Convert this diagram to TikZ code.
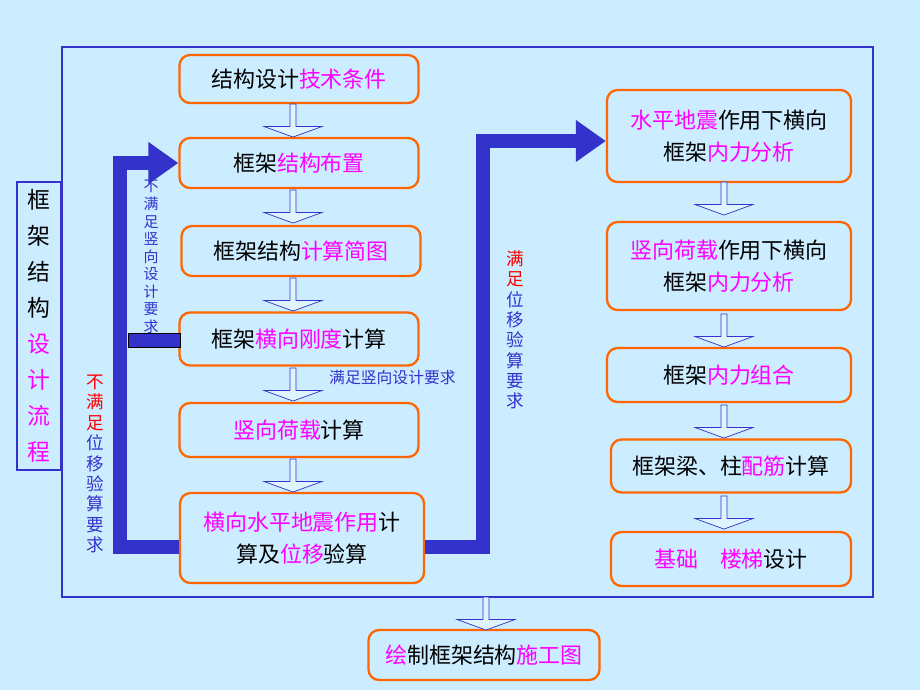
\documentclass[tikz,border=0pt]{standalone}
\usepackage{fontspec}
\setmainfont{Noto Sans CJK SC}[BoldFont={Noto Sans CJK SC Bold}]
\usetikzlibrary{arrows.meta,positioning,shapes.arrows}
\definecolor{bg_blue}{RGB}{204,236,255}
\definecolor{frame_blue}{RGB}{51,51,204}
\definecolor{box_orange}{RGB}{255,102,0}
\definecolor{mag}{RGB}{255,0,255}
\newcommand{\hl}[1]{\textcolor{mag}{#1}}
\begin{document}
\begin{tikzpicture}[x=0.02cm,y=-0.02cm,
      stepbox/.style={
         draw=box_orange,
         line width=1.3pt,
         rounded corners=6pt,
         minimum height=#1*0.02cm,
         inner sep=2pt,
         align=center,
         font=\fontsize{12.5}{18}\selectfont},
      stepbox/.default=50,
      hollow/.style={
         single arrow,
         shape border rotate=270,
         draw=frame_blue,
         fill=bg_blue!60!white,
         minimum width=1.15cm,
         minimum height=0.66cm,
         single arrow head extend=0.06cm,
         single arrow tip angle=140,
         inner sep=0pt},
      vtext/.style={
         align=center,
         text=frame_blue,
         font=\fontsize{8.5}{10}\selectfont},
      thickarrow/.style={
         draw=frame_blue,
         line width=0.28cm,
         -{Triangle[length=0.6cm,width=0.8cm]}},
      ]
      \fill[bg_blue] (0,0) rectangle (920,690);
      \useasboundingbox (0,0) rectangle (920,690);
      % outer frame
      \draw[frame_blue,line width=1.5pt] (62,47) rectangle (873,597);
      \node[draw=frame_blue,line width=1.5pt,fill=bg_blue,minimum width=44*0.02cm,
         minimum height=288*0.02cm,align=center,inner sep=0pt,
         font=\fontsize{13}{20.5}\selectfont] (title) at (39,326)
         {框\\架\\结\\构\\\hl{设}\\\hl{计}\\\hl{流}\\\hl{程}};
      % left column
      \node[stepbox=48,minimum width=239*0.02cm] (b1) at (299,79) {结构设计\hl{技术条件}};
      \node[stepbox,minimum width=239*0.02cm] (b2) at (299,163) {框架\hl{结构布置}};
      \node[stepbox,minimum width=239*0.02cm] (b3) at (301,251) {框架结构\hl{计算简图}};
      \node[stepbox=53,minimum width=239*0.02cm] (b4) at (299,339) {框架\hl{横向刚度}计算};
      \node[stepbox=54,minimum width=239*0.02cm] (b5) at (299,430) {\hl{竖向荷载}计算};
      \node[stepbox=90,minimum width=244*0.02cm] (b6) at (302,538) {\hl{横向水平地震作用}计\\算及\hl{位移}验算};
      % right column
      \node[stepbox=92,minimum width=244*0.02cm] (r1) at (729,136) {\hl{水平地震}作用下横向\\框架\hl{内力分析}};
      \node[stepbox=88,minimum width=244*0.02cm] (r2) at (729,266) {\hl{竖向荷载}作用下横向\\框架\hl{内力分析}};
      \node[stepbox=54,minimum width=244*0.02cm] (r3) at (729,375) {框架\hl{内力组合}};
      \node[stepbox=53,minimum width=240*0.02cm] (r4) at (731,466) {框架梁、柱\hl{配筋}计算};
      \node[stepbox=54,minimum width=240*0.02cm] (r5) at (731,559) {\hl{基础\quad 楼梯}设计};
      % bottom
      \node[stepbox=50,minimum width=231*0.02cm] (b7) at (484,655) {\hl{绘}制框架结构\hl{施工图}};
      % hollow arrows
      \foreach \n/\x/\y in {a1/293/120, a2/293/206, a3/293/294, a4/293/384, a5/293/475,
         a6/724/198, a7/724/330, a8/724/421, a9/724/512, a10/486/613}
         \node[hollow] (\n) at (\x,\y) {};
      % feedback arrows
      \coordinate (lc) at (120,547);
      \coordinate (rc) at (483,547);
      \draw[thickarrow] (b6.west |- lc) -- (lc) |- (b2.west);
      \draw[thickarrow] (b6.east |- rc) -- (rc) |- ([yshift=-0.1cm]r1.west);
      \node[draw=black,fill=frame_blue,minimum width=52*0.02cm,minimum height=14*0.02cm,
         inner sep=0pt] (bar) at (154,340) {};
      % labels
      \node[vtext] (t1) at (151,257) {不\\满\\足\\竖\\向\\设\\计\\要\\求};
      \node[vtext,font=\fontsize{9}{10}\selectfont,anchor=west] (t2) at (323,377) {满足竖向设计要求};
      \node[vtext,font=\fontsize{10}{11.6}\selectfont] (t3) at (95,464)
         {\textcolor{red}{不}\\\textcolor{red}{满}\\\textcolor{red}{足}\\位\\移\\验\\算\\要\\求};
      \node[vtext,font=\fontsize{10}{11.6}\selectfont] (t4) at (515,330)
         {\textcolor{red}{满}\\\textcolor{red}{足}\\位\\移\\验\\算\\要\\求};
\end{tikzpicture}
\end{document}
